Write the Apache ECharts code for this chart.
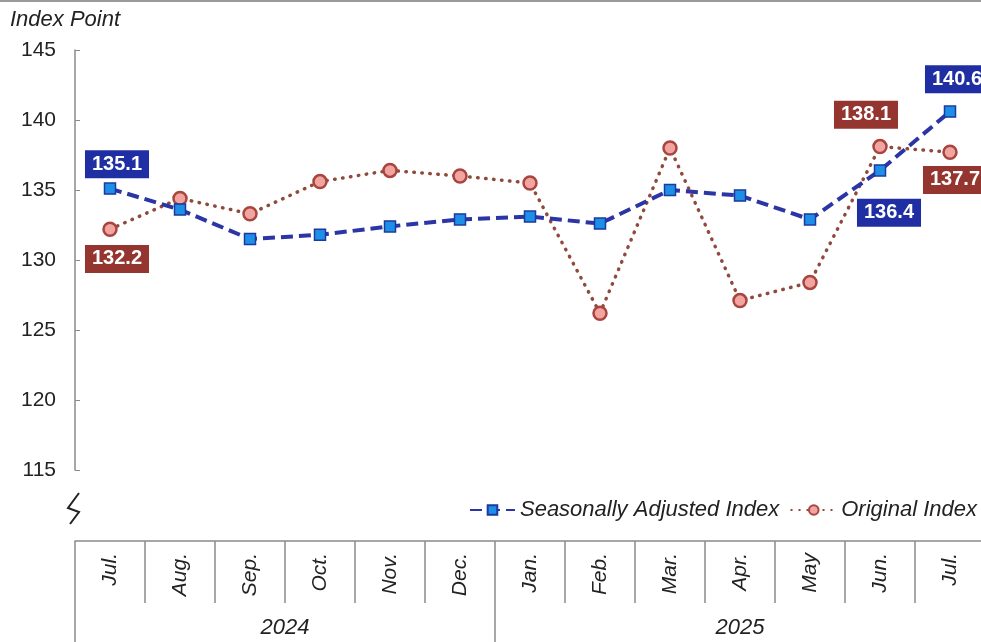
<!DOCTYPE html>
<html><head><meta charset="utf-8">
<script src="https://cdn.jsdelivr.net/npm/echarts@6/dist/echarts.min.js"></script>
<style>html,body{margin:0;padding:0;background:#fff;overflow:hidden}#c{width:995px;height:642px}</style>
</head><body><div id="c"></div>
<script>
const months = ['Jul.','Aug.','Sep.','Oct.','Nov.','Dec.','Jan.','Feb.','Mar.','Apr.','May','Jun.','Jul.'];
const years = ['2024','2025'];
const yearSpans = [6, 7];
const seasonallyAdjusted = [135.1,133.6,131.5,131.8,132.4,132.9,133.1,132.6,135.0,134.6,132.9,136.4,140.6];
const original = [132.2,134.4,133.3,135.6,136.4,136.0,135.5,126.2,138.0,127.1,128.4,138.1,137.7];
const yTicks = [115,120,125,130,135,140,145];

const FONT = 'Liberation Sans, Arial, sans-serif';
const BLUE_BOX = '#1f2fa3', RED_BOX = '#953530';

function lbl(bg, pos, dist, off){
  return {show:true, position:pos, distance:dist, offset:off, formatter:p=>p.value.toFixed(1),
    backgroundColor:bg, color:'#fff', fontFamily:FONT, fontWeight:'bold', fontSize:20, lineHeight:20,
    padding:[4,7,4,7]};
}
const saData = seasonallyAdjusted.map((v,i)=>{
  const d={value:v};
  if(i===0) d.label=lbl(BLUE_BOX,'top',4,[7,0]);
  if(i===11) d.label=lbl(BLUE_BOX,'bottom',22,[9,0]);
  if(i===12) d.label=lbl(BLUE_BOX,'top',12,[7,0]);
  return d;
});
const orData = original.map((v,i)=>{
  const d={value:v};
  if(i===0) d.label=lbl(RED_BOX,'bottom',8,[7,0]);
  if(i===11) d.label=lbl(RED_BOX,'top',10,[-14,0]);
  if(i===12) d.label=lbl(RED_BOX,'bottom',6,[5,0]);
  return d;
});

const yearBounds=[0]; yearSpans.forEach((s,i)=>yearBounds.push(yearBounds[i]+s));
const yearCenters = yearSpans.map((s,i)=>yearBounds[i]+s/2);

const chart = echarts.init(document.getElementById('c'));
chart.setOption({
  animation:false,
  title:{text:'Index Point', left:5, top:4, textStyle:{fontFamily:FONT, fontStyle:'italic', fontWeight:'normal', fontSize:22, color:'#222'}},
  legend:{right:13, top:494, itemWidth:45, itemHeight:12, itemGap:11,
    textStyle:{fontFamily:FONT, fontStyle:'italic', fontSize:22, color:'#222'},
    data:['Seasonally Adjusted Index','Original Index']},
  grid:{left:75, top:50, right:10, bottom:172},
  xAxis:[
    {type:'category', data:months, position:'bottom', offset:71, boundaryGap:true,
     axisLine:{show:true, lineStyle:{color:'#8a8a8a', width:1.5}},
     axisTick:{show:true, interval:0, length:62, lineStyle:{color:'#8a8a8a', width:1.5}},
     axisLabel:{interval:0, rotate:90, margin:12, fontFamily:FONT, fontStyle:'italic', fontSize:21, color:'#222'}},
    {type:'value', min:0, max:13, position:'bottom', offset:71,
     axisLine:{show:false}, splitLine:{show:false},
     axisTick:{show:true, customValues:yearBounds.slice(0,-1), length:101, lineStyle:{color:'#8a8a8a', width:1.5}},
     axisLabel:{customValues:yearCenters, margin:76, fontFamily:FONT, fontStyle:'italic', fontSize:22, color:'#222',
       formatter:v=>{const i=yearCenters.findIndex(c=>Math.abs(c-v)<1e-6); return i>=0?years[i]:'';}}}
  ],
  yAxis:{type:'value', min:yTicks[0], max:yTicks[yTicks.length-1], interval:5,
    axisLine:{show:true, lineStyle:{color:'#8a8a8a', width:1.5}},
    axisTick:{show:true, inside:true, length:5, lineStyle:{color:'#8a8a8a'}},
    splitLine:{show:false},
    axisLabel:{margin:19, fontFamily:FONT, fontSize:21, color:'#222'}},
  graphic:[
    {type:'line', shape:{x1:0,y1:1,x2:995,y2:1}, style:{stroke:'#9a9a9a', lineWidth:2}},
    {type:'polyline', shape:{points:[[79,493],[68,508],[79,512],[70,524]]}, style:{stroke:'#222', lineWidth:2, fill:null}}
  ],
  series:[
    {name:'Seasonally Adjusted Index', type:'line', xAxisIndex:0, data:saData, z:3,
     symbol:'rect', symbolSize:11,
     lineStyle:{color:'#2b35a6', width:4, type:[12,6]},
     itemStyle:{color:'#1e8fe8', borderColor:'#1b3a9c', borderWidth:1.5}},
    {name:'Original Index', type:'line', xAxisIndex:0, data:orData, z:2,
     symbol:'circle', symbolSize:13,
     lineStyle:{color:'#8f4a3c', width:3.5, type:[0.5,7.5], cap:'round'},
     itemStyle:{color:'#f2a5a0', borderColor:'#a8453f', borderWidth:2.5}}
  ]
});
</script></body></html>
